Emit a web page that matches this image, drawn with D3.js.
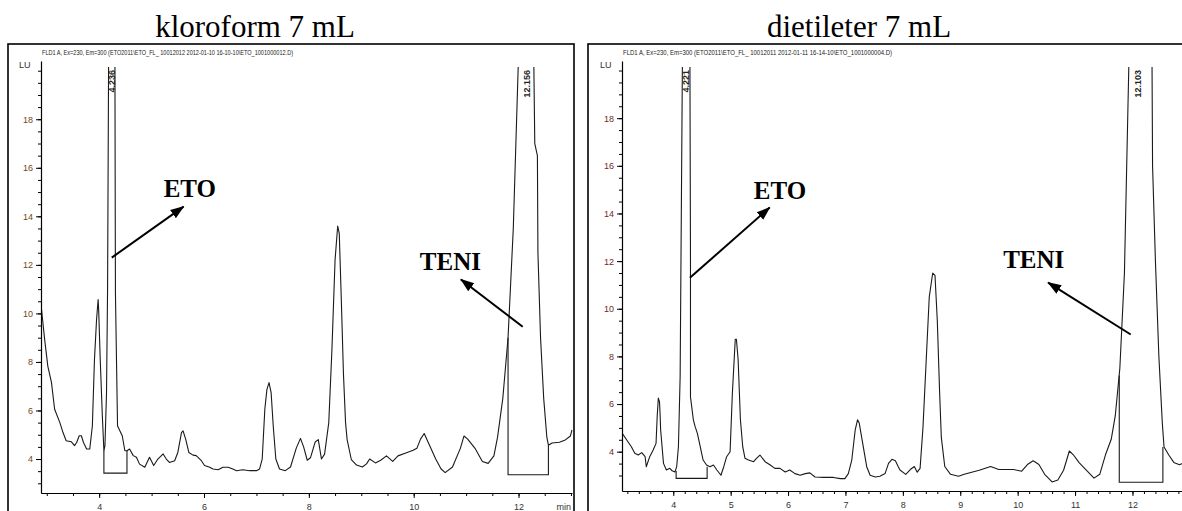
<!DOCTYPE html>
<html>
<head>
<meta charset="utf-8">
<script src="https://cdn.jsdelivr.net/npm/d3@7"></script>
<style>
body { margin: 0; background: #fff; }
svg { display: block; }
</style>
</head>
<body>
<svg id="chart" width="1182" height="511"></svg>
<script>
// panel titles and instrument headers
var titles = ["kloroform 7 mL", "dietileter 7 mL"];
var headers = [
  "FLD1 A, Ex=230, Em=300 (ETO2011\\ETO_FL_ 10012012 2012-01-10 16-10-10\\ETO_1001000012.D)",
  "FLD1 A, Ex=230, Em=300 (ETO2011\\ETO_FL_ 10012011 2012-01-11 16-14-10\\ETO_1001000004.D)"
];

// chromatograms: [time (min), signal (LU)]
var kloroformTrace = [
  [2.90,10.16],[2.96,8.92],[3.02,7.83],[3.09,7.15],[3.15,6.05],[3.25,5.50],[3.31,5.09],[3.37,4.75],
  [3.47,4.71],[3.53,4.55],[3.57,4.68],[3.62,4.96],[3.66,4.96],[3.70,4.68],[3.76,4.41],[3.82,4.41],
  [3.87,5.37],[3.91,8.10],[3.95,9.75],[3.98,10.57],[3.99,10.16],[4.02,8.10],[4.06,5.78],[4.09,4.34],
  [4.11,4.55],[4.14,6.74],[4.16,11.0],[4.18,20.6],[4.30,20.6],[4.31,10.84],[4.33,8.10],[4.35,5.37],
  [4.38,5.23],[4.44,4.96],[4.49,4.34],[4.53,4.34],[4.58,4.41],[4.65,4.14],[4.71,4.07],[4.77,3.79],
  [4.87,3.66],[4.96,4.07],[5.04,3.73],[5.12,4.00],[5.22,4.21],[5.28,4.00],[5.34,3.86],[5.44,3.93],
  [5.50,4.27],[5.57,5.09],[5.60,5.16],[5.65,4.82],[5.71,4.27],[5.79,4.16],[5.85,4.14],[5.95,3.93],
  [6.01,3.73],[6.11,3.66],[6.17,3.59],[6.27,3.56],[6.36,3.66],[6.46,3.66],[6.55,3.59],[6.62,3.52],
  [6.74,3.56],[6.87,3.52],[7.00,3.52],[7.06,3.59],[7.11,4.00],[7.16,6.05],[7.20,6.87],[7.24,7.15],
  [7.28,6.74],[7.32,5.37],[7.37,4.00],[7.44,3.59],[7.55,3.52],[7.65,3.67],[7.76,4.45],[7.84,4.85],
  [7.90,4.50],[7.97,3.95],[8.03,4.05],[8.12,4.70],[8.18,4.80],[8.24,4.00],[8.30,4.20],[8.38,5.50],
  [8.44,8.50],[8.50,12.2],[8.55,13.6],[8.58,13.3],[8.62,10.5],[8.66,7.50],[8.70,5.50],[8.73,4.80],
  [8.81,3.98],[8.91,3.75],[9.02,3.67],[9.10,3.80],[9.16,4.00],[9.27,3.84],[9.37,3.95],[9.48,4.13],
  [9.60,3.90],[9.70,4.13],[9.85,4.25],[9.99,4.36],[10.06,4.44],[10.13,4.82],[10.20,5.05],[10.28,4.67],
  [10.42,4.00],[10.52,3.60],[10.60,3.44],[10.74,3.67],[10.89,4.44],[10.96,4.95],[11.03,4.82],[11.17,4.44],
  [11.31,3.90],[11.42,3.82],[11.53,4.13],[11.60,4.90],[11.70,6.50],[11.80,9.00],[11.90,13.5],[12.00,20.6],
  [12.29,20.6],[12.31,17.0],[12.36,16.5],[12.37,12.5],[12.42,9.00],[12.48,6.50],[12.54,4.90],[12.57,4.57],
  [12.64,4.66],[12.78,4.69],[12.88,4.77],[12.99,4.95],[13.02,5.20]
];

var dietileterTrace = [
  [3.11,4.77],[3.19,4.49],[3.27,4.21],[3.33,3.93],[3.39,3.86],[3.45,3.96],[3.51,3.79],[3.53,3.37],
  [3.59,3.79],[3.65,4.07],[3.70,4.35],[3.72,5.48],[3.74,6.25],[3.76,6.10],[3.77,5.62],[3.78,4.92],
  [3.83,3.51],[3.88,3.23],[3.94,3.30],[3.98,3.20],[4.03,3.15],[4.06,3.37],[4.09,4.21],[4.12,7.17],
  [4.16,20.6],[4.29,20.6],[4.30,12.0],[4.30,6.30],[4.35,5.34],[4.38,5.06],[4.42,4.77],[4.47,4.21],
  [4.52,3.65],[4.58,3.44],[4.64,3.37],[4.70,3.44],[4.76,3.23],[4.83,3.01],[4.88,3.37],[4.93,3.79],
  [4.99,4.00],[5.03,6.46],[5.08,8.72],[5.10,8.72],[5.13,7.87],[5.17,5.34],[5.21,4.21],[5.25,3.72],
  [5.31,3.65],[5.40,3.58],[5.45,3.72],[5.51,3.86],[5.60,3.58],[5.69,3.44],[5.77,3.30],[5.86,3.30],
  [5.95,3.15],[6.03,3.23],[6.12,3.08],[6.21,3.01],[6.30,3.08],[6.38,3.11],[6.47,2.94],[6.62,2.92],
  [6.79,2.92],[6.91,2.87],[6.99,2.87],[7.05,3.08],[7.11,3.65],[7.17,4.92],[7.21,5.34],[7.24,5.20],
  [7.31,4.21],[7.37,3.37],[7.43,3.01],[7.52,2.94],[7.60,2.97],[7.69,3.08],[7.75,3.51],[7.81,3.68],
  [7.87,3.62],[7.92,3.37],[7.95,3.23],[8.05,3.05],[8.13,3.25],[8.20,3.38],[8.25,3.14],[8.30,3.30],
  [8.35,5.00],[8.40,7.50],[8.46,10.5],[8.52,11.5],[8.56,11.4],[8.60,9.50],[8.64,6.50],[8.67,4.60],
  [8.73,3.38],[8.83,3.05],[8.97,2.97],[9.07,3.05],[9.20,3.14],[9.33,3.22],[9.53,3.38],[9.67,3.25],
  [9.80,3.25],[9.93,3.25],[10.07,3.18],[10.17,3.46],[10.27,3.62],[10.37,3.46],[10.47,3.05],[10.60,2.73],
  [10.70,2.81],[10.80,3.22],[10.90,4.03],[10.97,3.87],[11.07,3.54],[11.20,3.22],[11.33,2.89],[11.43,3.05],
  [11.53,3.87],[11.63,4.52],[11.70,5.50],[11.78,7.50],[11.86,11.5],[11.94,20.6],[12.34,20.6],[12.35,16.0],
  [12.40,12.0],[12.46,8.00],[12.52,5.20],[12.55,4.20],[12.63,3.87],[12.72,3.55],[12.82,3.45],[12.95,3.60]
];

// integration baselines: [start, end, base, signal at start, signal at end]
var kloroformBaselines = [[4.09, 4.53, 3.42, 4.34, 4.34], [11.80, 12.57, 3.35, 9.0, 4.57]];
var dietileterBaselines = [[4.05, 4.59, 2.88, 3.20, 3.37], [11.77, 12.53, 2.72, 7.2, 4.20]];

// retention time labels
var kloroformPeaks = [4.236, 12.156];
var dietileterPeaks = [4.221, 12.103];

// annotations: name, text pos [t, v], arrow from [t, v], arrow to [t, v]
var kloroformNotes = [
  { name: "ETO", text: [5.73, 14.8], from: [4.24, 12.3], to: [5.61, 14.4] },
  { name: "TENI", text: [10.70, 11.8], from: [12.08, 9.45], to: [10.90, 11.4] }
];
var dietileterNotes = [
  { name: "ETO", text: [5.86, 14.6], from: [4.29, 11.3], to: [5.68, 14.25] },
  { name: "TENI", text: [10.28, 11.7], from: [11.97, 8.92], to: [10.53, 11.1] }
];

// ticks
var yMajor = [4, 6, 8, 10, 12, 14, 16, 18];
var yMinor = d3.range(3, 20.01, 0.5);
var kloroformXMajor = [4, 6, 8, 10, 12];
var kloroformXMinor = d3.range(3, 13.01, 0.5);
var dietileterXMajor = [4, 5, 6, 7, 8, 9, 10, 11, 12];
var dietileterXMinor = d3.range(3.2, 12.95, 0.2);

var svg = d3.select("#chart");
var narrow = "'Liberation Sans Narrow','Arial Narrow','Liberation Sans',sans-serif";

var defs = svg.append("defs");
defs.append("marker")
  .attr("id", "arrow")
  .attr("markerUnits", "userSpaceOnUse")
  .attr("markerWidth", 14).attr("markerHeight", 12)
  .attr("refX", 13).attr("refY", 6)
  .attr("orient", "auto")
  .append("path")
  .attr("d", "M0,1 L14,6 L0,11 Z")
  .attr("fill", "#000");

function drawPanel(p, i) {
  var x = d3.scaleLinear().domain(p.xDomain).range(p.xRange);
  var y = d3.scaleLinear().domain(p.yDomain).range(p.yRange);
  var g = svg.append("g");

  // title
  g.append("text")
    .attr("x", p.titleX).attr("y", 37)
    .attr("text-anchor", "middle")
    .attr("font-family", "'Liberation Serif','Times New Roman',serif")
    .attr("font-size", 31)
    .text(p.title);

  // frame
  g.append("rect")
    .attr("x", p.frame[0]).attr("y", p.frame[1])
    .attr("width", p.frame[2]).attr("height", p.frame[3])
    .attr("fill", "none").attr("stroke", "#000").attr("stroke-width", 1.6);

  // header line
  g.append("text")
    .attr("x", p.headerX).attr("y", 55)
    .attr("font-family", narrow).attr("font-size", 8)
    .attr("textLength", p.headerW).attr("lengthAdjust", "spacingAndGlyphs")
    .attr("fill", "#222")
    .text(p.header);

  g.append("text")
    .attr("x", p.xRange[0] - 22).attr("y", 68)
    .attr("font-family", narrow).attr("font-size", 9)
    .attr("fill", "#333")
    .text("LU");

  // axes
  var ax = p.yRange[0], ay = p.xRange[0];
  function styleAxis(sel) {
    sel.select(".domain").attr("stroke", "#000").attr("stroke-width", 1.2);
    sel.selectAll(".tick line").attr("stroke", "#000");
    sel.selectAll("text").attr("font-family", narrow).attr("font-size", 9).attr("fill", p.labelColor);
  }
  g.append("g").attr("transform", "translate(0," + ax + ")")
    .call(d3.axisBottom(x).tickValues(p.xMinor).tickSize(3).tickSizeOuter(0).tickFormat(""))
    .call(styleAxis);
  g.append("g").attr("transform", "translate(0," + ax + ")")
    .call(d3.axisBottom(x).tickValues(p.xMajor).tickSize(5).tickSizeOuter(0).tickPadding(6).tickFormat(d3.format("d")))
    .call(styleAxis)
    .call(function (s) { s.select(".domain").remove(); s.selectAll("text").attr("fill", "#333"); });
  g.append("g").attr("transform", "translate(" + ay + ",0)")
    .call(d3.axisLeft(y).tickValues(yMinor).tickSize(3).tickSizeOuter(0).tickFormat(""))
    .call(styleAxis);
  g.append("g").attr("transform", "translate(" + ay + ",0)")
    .call(d3.axisLeft(y).tickValues(yMajor).tickSize(5).tickSizeOuter(0).tickPadding(3).tickFormat(d3.format("d")))
    .call(styleAxis)
    .call(function (s) { s.select(".domain").remove(); });

  if (p.showMin) {
    g.append("text")
      .attr("x", p.xRange[1] - 1).attr("y", ax + 17)
      .attr("text-anchor", "end")
      .attr("font-family", narrow).attr("font-size", 9).attr("fill", "#333")
      .text("min");
  }

  // clip
  var clipId = "clip" + i;
  defs.append("clipPath").attr("id", clipId)
    .append("rect")
    .attr("x", ay + 1).attr("y", 67)
    .attr("width", p.xRange[1] - ay).attr("height", ax - 67);

  var line = d3.line().x(function (d) { return x(d[0]); }).y(function (d) { return y(d[1]); });

  g.append("path")
    .datum(p.trace)
    .attr("clip-path", "url(#" + clipId + ")")
    .attr("d", line)
    .attr("fill", "none").attr("stroke", "#1a1a1a").attr("stroke-width", 1.1)
    .attr("stroke-linejoin", "round");

  // integration baselines
  g.selectAll(".base").data(p.baselines).enter().append("path")
    .attr("d", function (b) {
      return line([[b[0], b[3]], [b[0], b[2]], [b[1], b[2]], [b[1], b[4]]]);
    })
    .attr("fill", "none").attr("stroke", "#1a1a1a").attr("stroke-width", 1.1);

  // retention labels
  g.selectAll(".rt").data(p.peaks).enter().append("text")
    .attr("transform", function (d) { return "translate(" + (x(d) + 3) + ",70) rotate(-90)"; })
    .attr("text-anchor", "end")
    .attr("font-family", narrow).attr("font-size", 9).attr("font-weight", "bold")
    .attr("fill", "#222")
    .text(function (d) { return d3.format(".3f")(d); });

  // annotations
  g.selectAll(".arr").data(p.notes).enter().append("line")
    .attr("x1", function (d) { return x(d.from[0]); })
    .attr("y1", function (d) { return y(d.from[1]); })
    .attr("x2", function (d) { return x(d.to[0]); })
    .attr("y2", function (d) { return y(d.to[1]); })
    .attr("stroke", "#000").attr("stroke-width", 2)
    .attr("marker-end", "url(#arrow)");
  g.selectAll(".note").data(p.notes).enter().append("text")
    .attr("x", function (d) { return x(d.text[0]); })
    .attr("y", function (d) { return y(d.text[1]); })
    .attr("text-anchor", "middle")
    .attr("font-family", "'Liberation Serif','Times New Roman',serif")
    .attr("font-size", 25).attr("font-weight", "bold")
    .text(function (d) { return d.name; });
}

var panels = [
  {
    title: titles[0], header: headers[0], titleX: 255, headerX: 42, headerW: 251,
    frame: [8, 44, 566, 480],
    xDomain: [2.89, 13.02], xRange: [41, 572],
    yDomain: [2.6, 20.4], yRange: [493, 61],
    xMajor: kloroformXMajor, xMinor: kloroformXMinor,
    trace: kloroformTrace, baselines: kloroformBaselines, peaks: kloroformPeaks, notes: kloroformNotes,
    labelColor: "#6b4a22", showMin: true
  },
  {
    title: titles[1], header: headers[1], titleX: 859, headerX: 623, headerW: 269,
    frame: [588, 44, 600, 480],
    xDomain: [3.107, 12.95], xRange: [622, 1187],
    yDomain: [2.35, 20.4], yRange: [491, 61],
    xMajor: dietileterXMajor, xMinor: dietileterXMinor,
    trace: dietileterTrace, baselines: dietileterBaselines, peaks: dietileterPeaks, notes: dietileterNotes,
    labelColor: "#6b2a2a", showMin: false
  }
];

panels.forEach(drawPanel);
</script>
</body>
</html>
